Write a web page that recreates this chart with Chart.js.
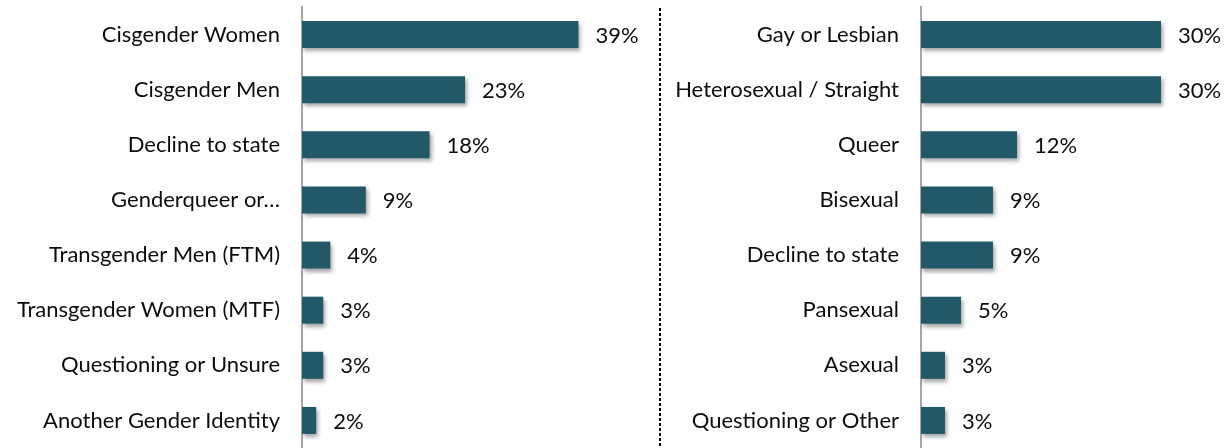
<!DOCTYPE html>
<html>
<head>
<meta charset="utf-8">
<script src="https://cdn.jsdelivr.net/npm/chart.js@4/dist/chart.umd.min.js"></script>
<style>
  html, body { margin: 0; padding: 0; background: #fff; }
  #wrap { position: relative; width: 1230px; height: 448px; }
  .box { position: absolute; top: 0; height: 448px; }
  #leftBox { left: 0; width: 661px; }
  #rightBox { left: 661px; width: 569px; }
</style>
</head>
<body>
<div id="wrap">
  <div class="box" id="leftBox"><canvas id="genderChart"></canvas></div>
  <div class="box" id="rightBox"><canvas id="orientChart"></canvas></div>
</div>
<script>
// Gender identity
var genderLabels = ['Cisgender Women', 'Cisgender Men', 'Decline to state', 'Genderqueer or\u2026',
    'Transgender Men (FTM)', 'Transgender Women (MTF)', 'Questioning or Unsure', 'Another Gender Identity'];
var genderValues = [39, 23, 18, 9, 4, 3, 3, 2];

// Sexual orientation
var orientLabels = ['Gay or Lesbian', 'Heterosexual / Straight', 'Queer', 'Bisexual',
    'Decline to state', 'Pansexual', 'Asexual', 'Questioning or Other'];
var orientValues = [30, 30, 12, 9, 9, 5, 3, 3];

var barColor = '#215968';
var fontFamily = 'Lato, "Open Sans", sans-serif';

/*
 * Soft drop shadow under the bars
 */
var barShadow = {
    id: 'barShadow',
    beforeDatasetsDraw: function(chart) {
        var ctx = chart.ctx;
        ctx.save();
        ctx.shadowColor = 'rgba(0,0,0,0.35)';
        ctx.shadowOffsetX = 2;
        ctx.shadowOffsetY = 3;
        ctx.shadowBlur = 4;
    },
    afterDatasetsDraw: function(chart) {
        chart.ctx.restore();
    }
};

/*
 * Percent labels at the end of each bar
 */
var valueLabels = {
    id: 'valueLabels',
    afterDatasetsDraw: function(chart) {
        var ctx = chart.ctx;
        var meta = chart.getDatasetMeta(0);
        ctx.save();
        ctx.font = '22px ' + fontFamily;
        ctx.fillStyle = '#0d0d0d';
        ctx.textAlign = 'left';
        ctx.textBaseline = 'middle';
        meta.data.forEach(function(bar, i) {
            ctx.fillText(chart.data.datasets[0].data[i] + '%', bar.x + 17, bar.y + 1);
        });
        ctx.restore();
    }
};

/*
 * Dashed divider between the two panels
 */
var divider = {
    id: 'divider',
    afterDraw: function(chart) {
        if (!chart.options.plugins.divider || !chart.options.plugins.divider.show) return;
        var ctx = chart.ctx;
        ctx.save();
        ctx.strokeStyle = '#000';
        ctx.lineWidth = 2;
        ctx.setLineDash([3, 2]);
        ctx.beginPath();
        ctx.moveTo(chart.width - 1, 8);
        ctx.lineTo(chart.width - 1, 448);
        ctx.stroke();
        ctx.restore();
    }
};

var createChart = function(id, labels, values, axisWidth, max, padRight, showDivider) {
    var ctx = document.getElementById(id).getContext('2d');
    return new Chart(ctx, {
        type: 'bar',
        data: {
            labels: labels,
            datasets: [{
                data: values,
                backgroundColor: barColor,
                borderWidth: 0,
                categoryPercentage: 1,
                barPercentage: 0.49
            }]
        },
        options: {
            indexAxis: 'y',
            responsive: true,
            maintainAspectRatio: false,
            animation: false,
            layout: { padding: { top: 7, bottom: 0, right: padRight, left: 0 } },
            plugins: {
                legend: { display: false },
                tooltip: { enabled: false },
                divider: { show: showDivider }
            },
            scales: {
                x: { display: false, min: 0, max: max },
                y: {
                    afterFit: function(scale) {
                        scale.width = axisWidth;
                        scale.paddingTop = 0;
                        scale.paddingBottom = 0;
                    },
                    grid: { display: false, drawTicks: false },
                    border: { display: true, color: '#a6a6a6', width: 2 },
                    ticks: {
                        padding: 22,
                        color: '#0d0d0d',
                        font: { family: fontFamily, size: 22 }
                    }
                }
            }
        },
        plugins: [barShadow, valueLabels, divider]
    });
};

createChart('genderChart', genderLabels, genderValues, 302, 45, 40, true);
createChart('orientChart', orientLabels, orientValues, 260, 35, 29, false);
</script>
</body>
</html>
